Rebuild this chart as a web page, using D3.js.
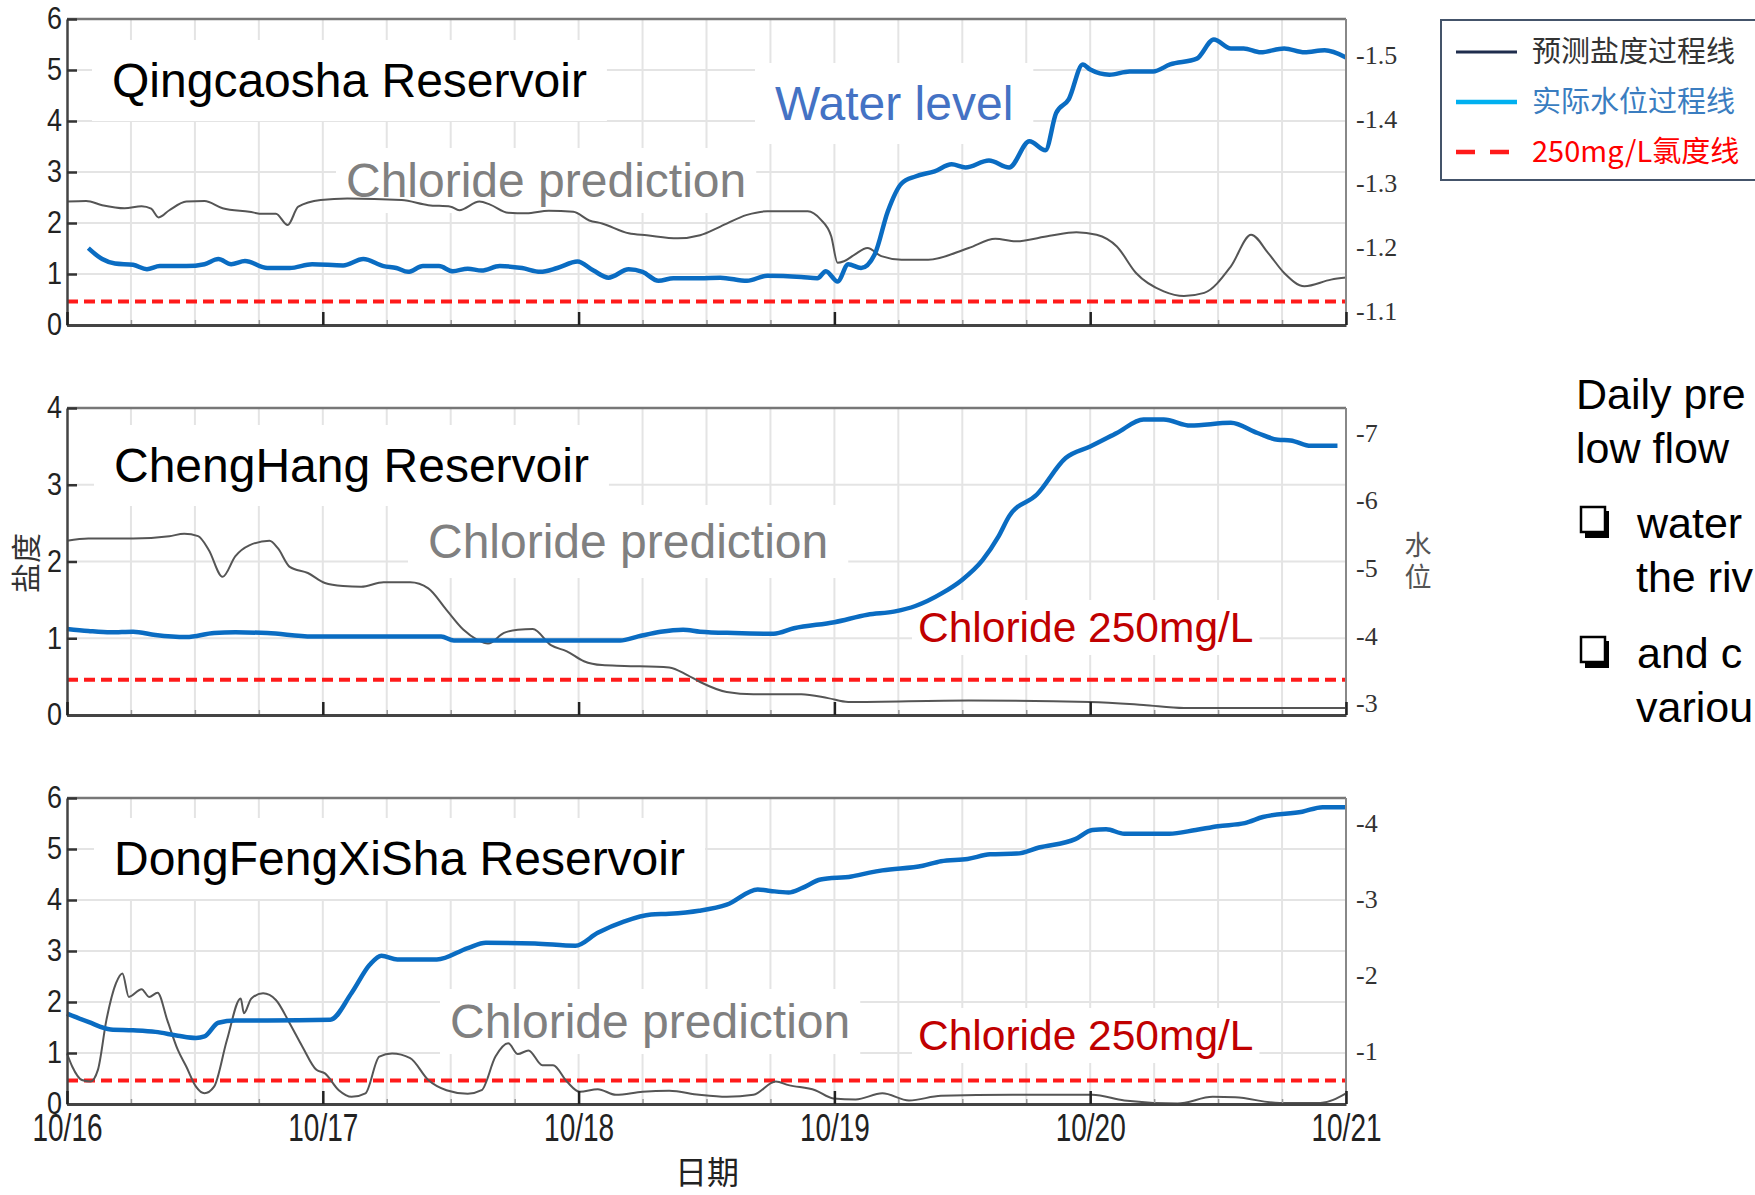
<!DOCTYPE html>
<html>
<head>
<meta charset="utf-8">
<script src="https://cdn.jsdelivr.net/npm/d3@7"></script>
<style>
  body { margin: 0; background: #fff; }
  svg { display: block; }
</style>
</head>
<body>
<div id="wrap"></div>
<script>
// 时间轴: 小时 (10/16 00:00 起)
const dayHours = [0, 24, 48, 72, 96, 120];
const dateLabels = ["10/16", "10/17", "10/18", "10/19", "10/20", "10/21"];
const gridHours = d3.range(6, 120, 6);

// 青草沙 预测盐度 / 实际水位
const qcsSalt = [[0,2.42],[1.8,2.43],[3.3,2.35],[5.4,2.29],[7,2.33],[7.9,2.28],[8.6,2.11],[9.6,2.25],[11.2,2.42],[12.9,2.43],[14.6,2.29],[17.1,2.22],[18.4,2.18],[19.6,2.18],[20.7,1.96],[21.7,2.32],[23.8,2.45],[26.3,2.48],[31.4,2.45],[33.9,2.35],[36,2.32],[36.8,2.25],[38.7,2.42],[39.7,2.36],[41.4,2.2],[43.1,2.19],[45.2,2.24],[47.5,2.22],[49,2.05],[50.2,1.99],[52.7,1.8],[54.4,1.76],[57.3,1.7],[59.4,1.76],[61.3,1.93],[63.8,2.16],[65.7,2.23],[69.5,2.23],[70.7,2.07],[71.7,1.74],[72.3,1.22],[72.9,1.25],[73.9,1.38],[75.1,1.51],[76.4,1.35],[78.3,1.28],[80.8,1.28],[84.6,1.51],[87.1,1.69],[89,1.64],[92.2,1.75],[94.7,1.82],[96.6,1.77],[98.5,1.54],[100.3,1.02],[102.9,0.66],[104.8,0.57],[106.7,0.63],[109.2,1.15],[111.1,1.77],[112.7,1.41],[114.2,1.02],[116.1,0.76],[118.6,0.89],[120,0.93]];
const qcsLevel = [[2,-1.199],[3.3,-1.182],[4.5,-1.175],[6.2,-1.173],[7.5,-1.166],[8.7,-1.171],[11.2,-1.171],[12.9,-1.174],[14.2,-1.182],[15.4,-1.174],[16.7,-1.179],[18.8,-1.168],[20.9,-1.168],[23,-1.174],[25.9,-1.172],[27.8,-1.182],[29.7,-1.171],[30.9,-1.168],[32,-1.162],[33.4,-1.171],[34.9,-1.171],[36.2,-1.163],[37.6,-1.167],[38.9,-1.164],[40.6,-1.171],[42.7,-1.168],[44.4,-1.162],[46,-1.168],[47.9,-1.178],[49.4,-1.164],[50.8,-1.153],[52.7,-1.166],[54,-1.162],[55.5,-1.148],[56.9,-1.152],[59.4,-1.152],[61.3,-1.153],[63.8,-1.148],[65.7,-1.156],[68.9,-1.154],[70.4,-1.152],[71.2,-1.163],[72.3,-1.147],[73.3,-1.174],[74.5,-1.168],[75.8,-1.19],[77,-1.256],[78.3,-1.3],[79.6,-1.311],[81.4,-1.319],[83,-1.33],[84.3,-1.325],[86.5,-1.336],[88.4,-1.325],[90.3,-1.366],[91.8,-1.352],[92.8,-1.41],[94,-1.432],[95.3,-1.486],[96,-1.478],[97.8,-1.47],[99.7,-1.475],[101.9,-1.475],[103.5,-1.486],[106,-1.495],[107.6,-1.525],[109.2,-1.511],[110.4,-1.511],[112,-1.505],[114.2,-1.511],[116.1,-1.505],[118,-1.508],[120,-1.497]];

// 陈行
const chSalt = [[0,2.27],[2,2.3],[6.2,2.3],[9.6,2.33],[11,2.36],[12.3,2.33],[13.3,2.15],[14.6,1.8],[15.8,2.07],[17.1,2.21],[19,2.27],[19.8,2.17],[20.9,1.93],[22.6,1.85],[24.2,1.72],[25.9,1.68],[27.6,1.67],[29.7,1.73],[32.2,1.73],[33.9,1.65],[35.6,1.37],[37.2,1.11],[38.5,0.98],[39.5,0.93],[41,1.07],[42.3,1.11],[43.7,1.12],[45.4,0.91],[46.9,0.83],[48.5,0.7],[50.2,0.65],[52.3,0.64],[56.5,0.62],[58.2,0.52],[59.4,0.43],[61.9,0.3],[64.4,0.27],[68.9,0.27],[71.4,0.22],[73.3,0.17],[84.6,0.19],[96,0.17],[101,0.13],[104.8,0.09],[120,0.09]];
const chLevel = [[0,-4.1],[2,-4.07],[4.1,-4.05],[6.2,-4.06],[8.3,-4.01],[11.2,-3.98],[13.8,-4.04],[15.8,-4.05],[18.8,-4.04],[23,-3.99],[35.1,-3.99],[36.3,-3.93],[39.7,-3.93],[51.9,-3.93],[53.6,-3.99],[55.7,-4.06],[57.8,-4.09],[59.4,-4.06],[62.6,-4.04],[66.3,-4.03],[68.2,-4.11],[72,-4.2],[75.1,-4.31],[77.7,-4.36],[79.6,-4.44],[82.1,-4.63],[84,-4.83],[85.9,-5.12],[87.4,-5.47],[88.4,-5.77],[91,-6.09],[93.7,-6.63],[96,-6.8],[98.5,-7],[101,-7.2],[102.9,-7.2],[105.4,-7.11],[109.2,-7.15],[111.7,-7],[113.6,-6.9],[114.8,-6.89],[116.7,-6.81],[119.2,-6.81]];

// 东风西沙
const dfSalt = [[0,0.99],[0.5,0.73],[1.4,0.47],[2.2,0.44],[2.9,0.67],[3.7,1.65],[4.6,2.37],[5.2,2.56],[5.8,2.1],[7,2.25],[7.7,2.1],[8.5,2.18],[9.4,1.65],[10.4,1.06],[11.2,0.73],[12.1,0.34],[12.9,0.21],[13.8,0.34],[15,1.25],[16.3,2.07],[16.6,1.78],[17.3,2.07],[18.4,2.17],[19.6,2.04],[20.9,1.58],[22.1,1.12],[23.4,0.67],[24.2,0.6],[25.5,0.27],[26.7,0.14],[28,0.21],[29.3,0.93],[30.5,0.99],[32.2,0.9],[33.9,0.47],[35.6,0.27],[37.6,0.2],[38.9,0.27],[40.2,0.93],[41.4,1.19],[42.3,0.98],[43.3,1.05],[44.6,0.76],[45.6,0.76],[46.9,0.44],[48.1,0.24],[49.8,0.29],[51.5,0.18],[54,0.24],[56.5,0.26],[59.3,0.18],[61.9,0.14],[64.4,0.18],[66.5,0.44],[67.7,0.37],[70.2,0.27],[71.9,0.11],[74,0.09],[76.5,0.21],[79,0.07],[82,0.16],[88.7,0.18],[96.2,0.18],[99.2,0.07],[104.2,0.01],[107.5,0.14],[109.6,0.13],[113.8,0.02],[117.6,0.02],[120,0.21]];
const dfLevel = [[0,-1.5],[2,-1.39],[4.1,-1.29],[6.2,-1.28],[8.3,-1.26],[10.4,-1.21],[12.1,-1.18],[12.9,-1.2],[14.2,-1.38],[15.8,-1.41],[18.8,-1.41],[24.7,-1.42],[26.7,-1.77],[28.4,-2.14],[29.5,-2.26],[31,-2.21],[34.7,-2.21],[37.6,-2.36],[39.3,-2.43],[43.9,-2.42],[47.7,-2.39],[49.8,-2.56],[52.3,-2.71],[54.8,-2.8],[56.5,-2.81],[59.3,-2.85],[61.9,-2.93],[64.8,-3.13],[66,-3.11],[67.7,-3.09],[69,-3.15],[70.7,-3.26],[73.6,-3.3],[75.3,-3.35],[76.5,-3.38],[80.3,-3.44],[82,-3.5],[84.5,-3.53],[86.6,-3.59],[89.1,-3.6],[91.2,-3.68],[94.6,-3.79],[96.2,-3.91],[97.5,-3.92],[99.2,-3.86],[103.4,-3.86],[105.9,-3.91],[108,-3.96],[110.5,-4],[112.2,-4.08],[115.9,-4.15],[117.8,-4.21],[120,-4.21]];

// 250mg/L 氯度线 (盐度)
const chlorideLimit = 0.46;

// 坐标轴刻度
const qcsSaltTicks = [0, 1, 2, 3, 4, 5, 6];
const chSaltTicks = [0, 1, 2, 3, 4];
const dfSaltTicks = [0, 1, 2, 3, 4, 5, 6];
const qcsLevelTicks = [-1.5, -1.4, -1.3, -1.2, -1.1];
const chLevelTicks = [-7, -6, -5, -4, -3];
const dfLevelTicks = [-4, -3, -2, -1];

const legendNames = ["预测盐度过程线", "实际水位过程线", "250mg/L氯度线"];

const width = 1755;
const height = 1195;
const plotLeft = 67;
const plotRight = 1346;
const saltColor = "#555";
const levelColor = "#0a6cc2";
const limitColor = "#ff1a1a";
const sans = "'Liberation Sans', Arial, sans-serif";
const serif = "'Liberation Serif','Times New Roman',serif";
const cjk = "'Noto Sans CJK SC', sans-serif";

let svg = d3.select("#wrap")
  .append("svg")
  .attr("width", width)
  .attr("height", height)
  .style("font-family", sans);
svg.append("rect").attr("width", width).attr("height", height).attr("fill", "#fff");

// 图层
const gridLayer = svg.append("g");
const boxLayer = svg.append("g");
const lineLayer = svg.append("g");
const noteLayer = svg.append("g");
const axisLayer = svg.append("g");

const x = d3.scaleLinear().domain([0, 120]).range([plotLeft, plotRight]);

const panels = [
  { top: 19, bottom: 325, saltMax: 6, levelDomain: [-1.079, -1.557], saltTicks: qcsSaltTicks, levelTicks: qcsLevelTicks, salt: qcsSalt, level: qcsLevel, labels: false },
  { top: 408, bottom: 715, saltMax: 4, levelDomain: [-2.827, -7.37], saltTicks: chSaltTicks, levelTicks: chLevelTicks, salt: chSalt, level: chLevel, labels: false },
  { top: 798, bottom: 1104, saltMax: 6, levelDomain: [-0.313, -4.33], saltTicks: dfSaltTicks, levelTicks: dfLevelTicks, salt: dfSalt, level: dfLevel, labels: true }
];

// 带白底的注释文字
function note(tx, ty, text, size, color, pad) {
  const t = noteLayer.append("text")
    .attr("x", tx).attr("y", ty)
    .attr("font-size", size)
    .attr("fill", color)
    .text(text);
  const b = t.node().getBBox();
  boxLayer.append("rect").attr("fill", "#fff")
    .attr("x", b.x - pad[0]).attr("y", b.y - pad[1])
    .attr("width", b.width + pad[0] * 2).attr("height", b.height + pad[1] * 2);
}

function drawPanel(p) {
  const ySalt = d3.scaleLinear().domain([0, p.saltMax]).range([p.bottom, p.top]);
  const yLevel = d3.scaleLinear().domain(p.levelDomain).range([p.bottom, p.top]);

  // 网格
  gridLayer.append("g").selectAll("line").data(gridHours).join("line")
    .attr("x1", d => x(d)).attr("x2", d => x(d))
    .attr("y1", p.top).attr("y2", p.bottom)
    .attr("stroke", "#e4e4e4").attr("stroke-width", 2);
  gridLayer.append("g").selectAll("line").data(p.saltTicks.slice(1, -1)).join("line")
    .attr("x1", plotLeft).attr("x2", plotRight)
    .attr("y1", d => ySalt(d)).attr("y2", d => ySalt(d))
    .attr("stroke", "#e4e4e4").attr("stroke-width", 2);

  // 250mg/L 氯度线
  lineLayer.append("line")
    .attr("x1", plotLeft).attr("x2", plotRight)
    .attr("y1", ySalt(chlorideLimit)).attr("y2", ySalt(chlorideLimit))
    .attr("stroke", limitColor).attr("stroke-width", 4)
    .attr("stroke-dasharray", "11,6");

  // 预测盐度
  const saltLine = d3.line().x(d => x(d[0])).y(d => ySalt(d[1])).curve(d3.curveMonotoneX);
  lineLayer.append("path").datum(p.salt)
    .attr("d", saltLine)
    .attr("fill", "none").attr("stroke", saltColor).attr("stroke-width", 2);

  // 实际水位
  const levelLine = d3.line().x(d => x(d[0])).y(d => yLevel(d[1])).curve(d3.curveMonotoneX);
  lineLayer.append("path").datum(p.level)
    .attr("d", levelLine)
    .attr("fill", "none").attr("stroke", levelColor).attr("stroke-width", 4.5)
    .attr("stroke-linejoin", "round");

  // 外框
  axisLayer.append("line").attr("x1", plotLeft).attr("x2", plotRight).attr("y1", p.top).attr("y2", p.top)
    .attr("stroke", "#777").attr("stroke-width", 2.5);
  axisLayer.append("line").attr("x1", plotRight).attr("x2", plotRight).attr("y1", p.top).attr("y2", p.bottom)
    .attr("stroke", "#888").attr("stroke-width", 2);

  // 左轴 盐度
  const yAxis = d3.axisLeft(ySalt).tickValues(p.saltTicks).tickSize(-10).tickSizeOuter(0).tickPadding(5)
    .tickFormat(d3.format("d"));
  const gy = axisLayer.append("g").attr("transform", `translate(${plotLeft},0)`).call(yAxis);
  gy.select(".domain").attr("stroke", "#444").attr("stroke-width", 2.5);
  gy.selectAll(".tick line").attr("stroke", "#333").attr("stroke-width", 2.5);
  gy.selectAll(".tick text").attr("font-size", 31).attr("font-family", sans).attr("fill", "#222")
    .attr("textLength", 15).attr("lengthAdjust", "spacingAndGlyphs");

  // 右轴 水位
  const rAxis = d3.axisRight(yLevel).tickValues(p.levelTicks).tickSize(0).tickPadding(10)
    .tickFormat(d => String(d));
  const gr = axisLayer.append("g").attr("transform", `translate(${plotRight},0)`).call(rAxis);
  gr.select(".domain").remove();
  gr.selectAll(".tick text").attr("font-size", 26).attr("font-family", serif).attr("fill", "#333");

  // 下轴 日期
  const minorAxis = d3.axisBottom(x).tickValues(gridHours).tickSize(-5).tickFormat("");
  const gm = axisLayer.append("g").attr("transform", `translate(0,${p.bottom})`).call(minorAxis);
  gm.select(".domain").remove();
  gm.selectAll(".tick line").attr("stroke", "#999").attr("stroke-width", 1.5);

  const xAxis = d3.axisBottom(x).tickValues(dayHours).tickSize(-13).tickSizeOuter(0).tickPadding(10)
    .tickFormat((d, k) => p.labels ? dateLabels[k] : "");
  const gx = axisLayer.append("g").attr("transform", `translate(0,${p.bottom})`).call(xAxis);
  gx.select(".domain").attr("stroke", "#444").attr("stroke-width", 3);
  gx.selectAll(".tick line").attr("stroke", "#222").attr("stroke-width", 2.5);
  if (p.labels) {
    gx.selectAll(".tick text").attr("font-size", 38).attr("font-family", sans).attr("fill", "#222")
      .attr("textLength", 70).attr("lengthAdjust", "spacingAndGlyphs");
  }
}

panels.forEach(drawPanel);

// 注释
note(112, 97, "Qingcaosha Reservoir", 48, "#000", [20, 14]);
note(775, 120, "Water level", 48, "#4472c4", [20, 14]);
note(346, 197, "Chloride prediction", 48, "#808080", [10, 6]);
note(114, 482, "ChengHang Reservoir", 48, "#000", [20, 14]);
note(428, 558, "Chloride prediction", 48, "#808080", [20, 10]);
note(918, 642, "Chloride 250mg/L", 42.5, "#c00000", [6, 4]);
note(114, 875, "DongFengXiSha Reservoir", 48, "#000", [20, 14]);
note(450, 1038, "Chloride prediction", 48, "#808080", [10, 6]);
note(918, 1050, "Chloride 250mg/L", 42.5, "#c00000", [6, 4]);

// 轴标题
svg.append("text")
  .attr("transform", "translate(37,563) rotate(-90)")
  .attr("text-anchor", "middle")
  .attr("font-family", cjk).attr("font-size", 30).attr("fill", "#333")
  .text("盐度");
svg.append("text").attr("x", 1418).attr("y", 531)
  .style("writing-mode", "vertical-rl").attr("letter-spacing", 5)
  .attr("font-family", cjk).attr("font-size", 27).attr("fill", "#555").text("水位");
svg.append("text").attr("x", 707).attr("y", 1184).attr("text-anchor", "middle")
  .attr("font-family", cjk).attr("font-size", 32).attr("fill", "#222").text("日期");

// 图例
const lg = svg.append("g");
lg.append("rect").attr("x", 1441).attr("y", 20).attr("width", 400).attr("height", 160)
  .attr("fill", "#fff").attr("stroke", "#44546a").attr("stroke-width", 2);
const legendStyle = [
  { color: "#1f2d4d", text: "#333", dash: null, w: 3 },
  { color: "#00b0f0", text: "#3a7dc0", dash: null, w: 4.5 },
  { color: limitColor, text: "#ff0000", dash: "19,15", w: 4.5 }
];
legendNames.forEach((name, k) => {
  const ly = 52 + k * 50;
  const s = legendStyle[k];
  lg.append("line").attr("x1", 1456).attr("x2", 1517).attr("y1", ly).attr("y2", ly)
    .attr("stroke", s.color).attr("stroke-width", s.w).attr("stroke-dasharray", s.dash);
  lg.append("text").attr("x", 1532).attr("y", ly).attr("dy", "0.36em")
    .attr("font-family", cjk).attr("font-size", 29).attr("fill", s.text).text(name);
});

// 右侧说明文字 (原图在右边缘被截断)
const side = svg.append("g").attr("font-size", 43).attr("fill", "#000");
const sideLines = [
  [1576, 409, "Daily pre"],
  [1576, 463, "low flow"],
  [1637, 538, "water"],
  [1636, 592, "the riv"],
  [1637, 668, "and c"],
  [1636, 722, "variou"]
];
side.selectAll("text").data(sideLines).join("text")
  .attr("x", d => d[0]).attr("y", d => d[1]).text(d => d[2]);
[538, 668].forEach(by => {
  side.append("rect").attr("x", 1585).attr("y", by - 27).attr("width", 24).attr("height", 27).attr("fill", "#000");
  side.append("rect").attr("x", 1581).attr("y", by - 31).attr("width", 24).attr("height", 25)
    .attr("fill", "#fff").attr("stroke", "#000").attr("stroke-width", 2.5);
});
</script>
</body>
</html>
